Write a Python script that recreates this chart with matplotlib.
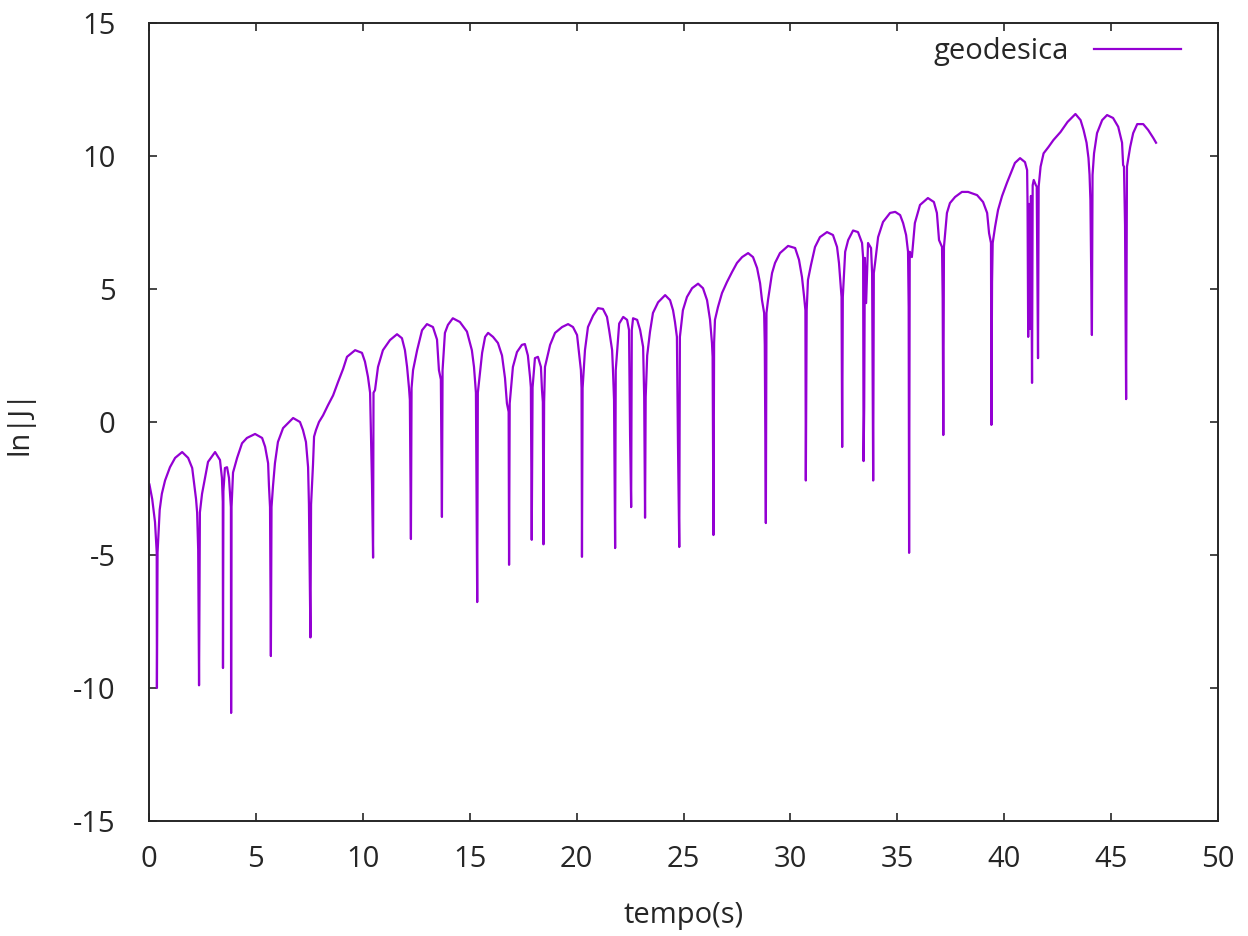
import matplotlib
matplotlib.use("Agg")
import matplotlib.pyplot as plt

# ln|J| vs tempo (arches with sharp dips/spikes)
tempo = [
    0.02, 0.15, 0.28, 0.36, 0.37, 0.40,
    0.50, 0.60, 0.75, 0.98, 1.22, 1.55, 1.83, 2.02, 2.11, 2.20, 2.25, 2.30, 2.34, 2.38,
    2.48, 2.62, 2.76, 3.09, 3.32, 3.41, 3.45, 3.46, 3.48, 3.55, 3.65, 3.74, 3.83, 3.84, 3.86,
    3.93, 4.12, 4.35, 4.58, 4.96, 5.29, 5.43, 5.57, 5.61, 5.66, 5.70, 5.73,
    5.80, 5.89, 6.03, 6.27, 6.74, 7.06, 7.20, 7.34, 7.44, 7.48, 7.55, 7.58,
    7.67, 7.72, 7.81, 7.95, 8.14, 8.37, 8.61, 8.84, 9.08, 9.26, 9.64, 9.96, 10.10, 10.24, 10.34, 10.43, 10.48, 10.50,
    10.57, 10.71, 10.94, 11.27, 11.60, 11.83, 11.97, 12.07, 12.16, 12.20, 12.25, 12.28,
    12.35, 12.54, 12.77, 13.00, 13.28, 13.47, 13.56, 13.65, 13.70, 13.73,
    13.84, 13.98, 14.21, 14.54, 14.87, 15.10, 15.20, 15.29, 15.35, 15.38,
    15.58, 15.72, 15.86, 16.09, 16.32, 16.51, 16.65, 16.74, 16.82, 16.84, 16.87,
    17.02, 17.21, 17.44, 17.58, 17.72, 17.82, 17.86, 17.90, 17.94, 18.05, 18.19, 18.33, 18.38, 18.42, 18.45, 18.48,
    18.52, 18.76, 18.99, 19.32, 19.60, 19.83, 20.02, 20.11, 20.20, 20.23, 20.25, 20.28,
    20.39, 20.53, 20.77, 21.00, 21.23, 21.42, 21.52, 21.66, 21.70, 21.75, 21.80, 21.83,
    21.90, 21.99, 22.18, 22.36, 22.45, 22.50, 22.55, 22.58, 22.64, 22.83, 22.97, 23.11, 23.16, 23.20, 23.23,
    23.30, 23.43, 23.57, 23.81, 24.14, 24.37, 24.51, 24.60, 24.69, 24.74, 24.80, 24.83,
    24.97, 25.16, 25.40, 25.68, 25.91, 26.10, 26.24, 26.33, 26.36, 26.40, 26.43,
    26.47, 26.61, 26.80, 27.03, 27.27, 27.50, 27.74, 28.02, 28.25, 28.44, 28.58, 28.67, 28.77, 28.80, 28.85, 28.88,
    28.95, 29.14, 29.28, 29.51, 29.89, 30.22, 30.40, 30.54, 30.64, 30.70, 30.72, 30.76,
    30.82, 30.96, 31.15, 31.38, 31.71, 31.99, 32.18, 32.27, 32.36, 32.39, 32.42, 32.45,
    32.56, 32.70, 32.93, 33.16, 33.35, 33.40, 33.42, 33.45, 33.48, 33.54, 33.63, 33.77, 33.82, 33.87, 33.90,
    33.96, 34.10, 34.33, 34.66, 34.90, 35.13, 35.27, 35.41, 35.50, 35.53, 35.55, 35.58,
    35.68, 35.82, 36.06, 36.43, 36.71, 36.85, 36.95, 37.09, 37.12, 37.15, 37.18,
    37.32, 37.46, 37.70, 38.02, 38.31, 38.73, 39.01, 39.20, 39.29, 39.38, 39.40, 39.43, 39.46,
    39.57, 39.71, 39.90, 40.13, 40.50, 40.74, 40.97, 41.07,
    41.09, 41.12, 41.16, 41.20, 41.25, 41.30, 41.33, 41.38, 41.48, 41.52, 41.55, 41.58, 41.61,
    41.70, 41.84, 42.07, 42.30, 42.63, 42.96, 43.33, 43.57, 43.71, 43.85, 43.94, 43.99, 44.03, 44.10, 44.13,
    44.20, 44.34, 44.58, 44.81, 45.09, 45.33, 45.51, 45.56, 45.60, 45.65, 45.70, 45.74,
    45.89, 46.03, 46.22, 46.50, 46.73, 46.97, 47.10,
]
lnJ = [
    -2.35, -2.9, -3.76, -4.9, -10.0, -4.9,
    -3.3, -2.7, -2.2, -1.7, -1.35, -1.13, -1.35, -1.73, -2.3, -2.9, -3.4, -4.8, -9.9, -3.4,
    -2.7, -2.1, -1.5, -1.13, -1.43, -2.1, -3.0, -9.25, -2.6, -1.73, -1.7, -2.1, -3.2, -10.94, -3.2,
    -1.9, -1.35, -0.8, -0.6, -0.45, -0.6, -0.93, -1.55, -2.4, -3.2, -8.8, -3.2,
    -2.4, -1.55, -0.75, -0.23, 0.15, 0.0, -0.3, -0.75, -1.7, -3.1, -8.1, -3.1,
    -1.6, -0.55, -0.3, 0.0, 0.25, 0.63, 1.0, 1.5, 2.0, 2.45, 2.7, 2.6, 2.27, 1.7, 1.1, -2.35, -5.1, 1.1,
    1.2, 2.07, 2.7, 3.08, 3.3, 3.15, 2.7, 2.07, 1.28, 0.83, -4.4, 1.28,
    1.95, 2.7, 3.45, 3.68, 3.57, 3.1, 1.95, 1.6, -3.57, 1.95,
    3.35, 3.65, 3.9, 3.76, 3.4, 2.7, 2.07, 1.1, -6.77, 1.1,
    2.6, 3.2, 3.35, 3.2, 2.97, 2.5, 1.65, 0.7, 0.38, -5.37, 0.7,
    2.07, 2.63, 2.9, 2.93, 2.5, 1.7, 1.3, -4.43, 1.3, 2.4, 2.45, 2.07, 1.2, 0.75, -4.6, 0.75,
    2.07, 2.9, 3.35, 3.57, 3.68, 3.57, 3.27, 2.6, 1.95, 1.28, -5.07, 1.28,
    2.7, 3.57, 4.0, 4.28, 4.25, 3.95, 3.46, 2.7, 1.95, 0.83, -4.74, 1.95,
    2.7, 3.7, 3.95, 3.84, 3.46, -0.5, -3.2, 3.46, 3.9, 3.84, 3.46, 2.82, 0.94, -3.6, 0.94,
    2.5, 3.38, 4.1, 4.5, 4.77, 4.58, 4.2, 3.76, 3.2, -0.8, -4.7, 3.2,
    4.2, 4.7, 5.03, 5.2, 5.03, 4.58, 3.84, 2.97, 2.45, -4.25, 2.97,
    3.84, 4.32, 4.85, 5.26, 5.64, 5.98, 6.2, 6.35, 6.2, 5.79, 5.22, 4.58, 4.1, 2.9, -3.8, 4.1,
    4.58, 5.6, 5.98, 6.35, 6.62, 6.54, 6.1, 5.45, 4.7, 4.2, -2.2, 4.2,
    5.34, 5.9, 6.58, 6.95, 7.14, 7.03, 6.58, 5.98, 5.03, 4.7, -0.94, 4.7,
    6.4, 6.84, 7.2, 7.14, 6.73, 6.17, -1.47, 0.56, 6.17, 4.47, 6.73, 6.54, 5.6, -2.2, 5.6,
    5.98, 6.95, 7.52, 7.86, 7.9, 7.78, 7.48, 7.03, 6.4, 4.32, -4.92, 6.4,
    6.2, 7.48, 8.16, 8.42, 8.27, 7.86, 6.84, 6.58, 4.66, -0.49, 6.58,
    7.86, 8.23, 8.46, 8.65, 8.65, 8.53, 8.27, 7.86, 7.1, 6.73, -0.11, 5.26, 6.73,
    7.33, 7.97, 8.5, 9.0, 9.74, 9.92, 9.77, 9.47,
    8.23, 3.2, 8.2, 3.5, 8.5, 1.47, 8.9, 9.1, 8.9, 8.85, 5.83, 2.4, 8.85,
    9.6, 10.1, 10.34, 10.6, 10.9, 11.28, 11.58, 11.35, 10.98, 10.5, 9.92, 9.29, 8.35, 3.27, 9.29,
    10.1, 10.86, 11.35, 11.54, 11.43, 11.1, 10.5, 9.66, 9.6, 7.4, 0.86, 9.6,
    10.34, 10.86, 11.2, 11.2, 10.98, 10.68, 10.5,
]

x_ticks = [0, 5, 10, 15, 20, 25, 30, 35, 40, 45, 50]
y_ticks = [-15, -10, -5, 0, 5, 10, 15]

plt.rcParams["font.family"] = ["Open Sans", "DejaVu Sans"]
plt.rcParams["axes.unicode_minus"] = False
ink = "#262626"
fs = 21

fig = plt.figure(figsize=(12.48, 9.36), dpi=100)
ax = fig.add_axes([0.1194, 0.1229, 0.8566, 0.8525])

ax.plot(tempo, lnJ, color="#9400d3", lw=1.6, label="geodesica")

ax.set_xlim(0, 50)
ax.set_ylim(-15, 15)
ax.set_xticks(x_ticks)
ax.set_yticks(y_ticks)
ax.tick_params(direction="in", length=6, width=1.2, top=True, right=True,
               labelsize=fs, colors=ink)
ax.tick_params(axis="x", pad=17)
ax.tick_params(axis="y", pad=24)
for s in ax.spines.values():
    s.set_linewidth(1.4)
    s.set_color(ink)

ax.set_xlabel("tempo(s)", fontsize=fs, color=ink, labelpad=20)
ax.set_ylabel("ln|J|", fontsize=fs, color=ink, labelpad=28)

leg = ax.legend(loc="center right", bbox_to_anchor=(0.9654, 0.9637), frameon=False,
                fontsize=fs, markerfirst=False, handlelength=3.0, handletextpad=0.85,
                borderpad=0, borderaxespad=0)
for t in leg.get_texts():
    t.set_color(ink)

fig.savefig("out.png", dpi=100)
